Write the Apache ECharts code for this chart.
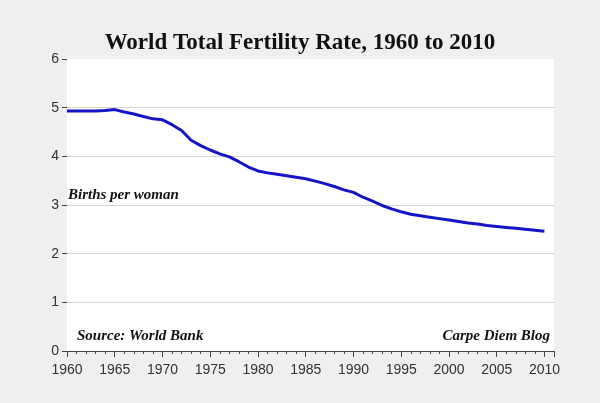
<!DOCTYPE html>
<html>
<head>
<meta charset="utf-8">
<script src="https://cdn.jsdelivr.net/npm/echarts@6/dist/echarts.min.js"></script>
<style>
  html, body { margin: 0; padding: 0; background: #efefef; }
  #main { width: 600px; height: 403px; }
</style>
</head>
<body>
<div id="main"></div>
<script>
// World Bank total fertility rate
var years = [1960, 1961, 1962, 1963, 1964, 1965, 1966, 1967, 1968, 1969,
             1970, 1971, 1972, 1973, 1974, 1975, 1976, 1977, 1978, 1979,
             1980, 1981, 1982, 1983, 1984, 1985, 1986, 1987, 1988, 1989,
             1990, 1991, 1992, 1993, 1994, 1995, 1996, 1997, 1998, 1999,
             2000, 2001, 2002, 2003, 2004, 2005, 2006, 2007, 2008, 2009, 2010];
var birthsPerWoman = [4.93, 4.93, 4.93, 4.93, 4.94, 4.96, 4.91, 4.87, 4.82, 4.77,
                      4.75, 4.65, 4.53, 4.33, 4.22, 4.13, 4.05, 3.99, 3.89, 3.78,
                      3.70, 3.66, 3.63, 3.60, 3.57, 3.54, 3.49, 3.44, 3.38, 3.31,
                      3.26, 3.16, 3.08, 2.99, 2.92, 2.86, 2.81, 2.78, 2.75, 2.72,
                      2.69, 2.66, 2.63, 2.61, 2.58, 2.56, 2.54, 2.52, 2.50, 2.48, 2.46];

var titleText = 'World Total Fertility Rate, 1960 to 2010';
var yLabel = 'Births per woman';
var sourceText = 'Source: World Bank';
var blogText = 'Carpe Diem Blog';

var chart = echarts.init(document.getElementById('main'));

var points = [];
for (var i = 0; i < years.length; i++) {
    points.push([years[i], birthsPerWoman[i]]);
}

var noteFont = 'italic bold 15px "Liberation Serif"';

chart.setOption({
    backgroundColor: '#efefef',
    animation: false,
    title: {
        text: titleText,
        left: 'center',
        top: 27,
        textStyle: {
            fontFamily: 'Liberation Serif',
            fontWeight: 'bold',
            fontSize: 23,
            color: '#111'
        }
    },
    grid: {
        left: 67,
        right: 46,
        top: 59,
        bottom: 52,
        show: true,
        backgroundColor: '#fff',
        borderWidth: 0
    },
    xAxis: {
        type: 'value',
        min: 1960,
        max: 2011,
        interval: 5,
        axisLine: { show: true, lineStyle: { color: '#444', width: 1 } },
        axisTick: { show: true, length: 6, lineStyle: { color: '#444' } },
        minorTick: { show: true, splitNumber: 5, length: 3, lineStyle: { color: '#444' } },
        splitLine: { show: false },
        axisLabel: {
            showMaxLabel: false,
            margin: 12,
            fontFamily: 'Liberation Sans',
            fontSize: 14,
            color: '#333',
            formatter: function (v) { return String(v); }
        }
    },
    yAxis: {
        type: 'value',
        min: 0,
        max: 6,
        interval: 1,
        axisLine: { show: false },
        axisTick: { show: true, length: 5, lineStyle: { color: '#444' } },
        splitLine: { show: true, lineStyle: { color: ['#fff', '#d4d4d4', '#d4d4d4', '#d4d4d4', '#d4d4d4', '#d4d4d4', '#fff'] } },
        axisLabel: {
            margin: 8,
            fontFamily: 'Liberation Sans',
            fontSize: 14,
            color: '#333'
        }
    },
    graphic: [
        {
            type: 'text', left: 68, top: 188,
            style: { text: yLabel, font: noteFont, fill: '#111' }
        },
        {
            type: 'text', left: 77, top: 329,
            style: { text: sourceText, font: noteFont, fill: '#111' }
        },
        {
            type: 'text', right: 50, top: 329,
            style: { text: blogText, font: noteFont, fill: '#111' }
        }
    ],
    series: [{
        type: 'line',
        data: points,
        showSymbol: false,
        smooth: false,
        lineStyle: { color: '#1515c8', width: 3 }
    }]
});
</script>
</body>
</html>
